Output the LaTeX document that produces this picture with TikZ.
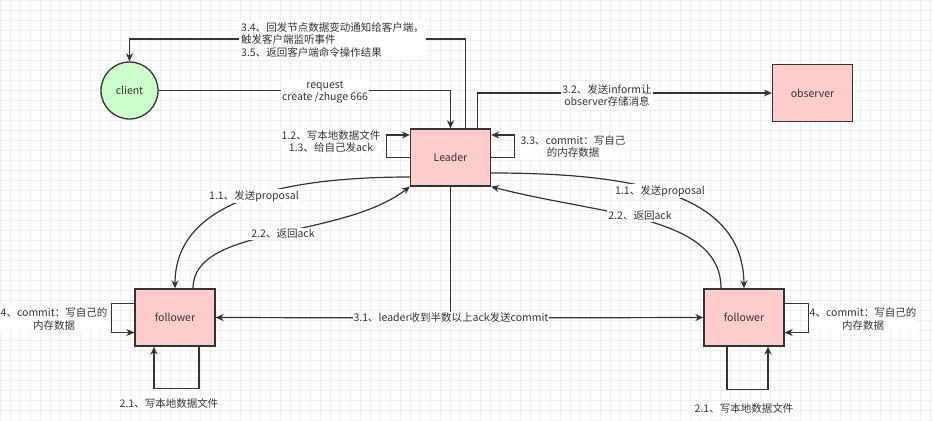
\documentclass[tikz,border=0pt]{standalone}
\usepackage{fontspec}
\setmainfont{Noto Sans CJK SC}
\usetikzlibrary{arrows.meta,calc}
\definecolor{edgec}{HTML}{333333}
\definecolor{pinkfill}{HTML}{FFCCCC}
\definecolor{greenfill}{HTML}{CCFFCC}
\definecolor{gridc}{HTML}{EEEEEE}
\begin{document}
\begin{tikzpicture}[x=1pt,y=-1pt,
  font=\fontsize{10.5}{12.5}\selectfont,
  box/.style={draw=edgec,line width=1.3pt,fill=pinkfill,minimum width=80pt,minimum height=57pt,inner sep=0pt,text=edgec},
  roundnode/.style={circle,draw=edgec,line width=1.3pt,fill=greenfill,minimum size=57pt,inner sep=0pt,text=edgec},
  conn/.style={draw=edgec,line width=1.2pt,-{Stealth[length=8pt,width=7pt]}},
  plain/.style={draw=edgec,line width=1.2pt},
  lbl/.style={fill=white,inner sep=1pt,text=edgec,align=center}
]
\useasboundingbox (0,0) rectangle (933,420);
\fill[white] (0,0) rectangle (933,420);
\foreach \i in {0,10,...,930} \draw[gridc,line width=0.5pt] (\i,0) -- (\i,420);
\foreach \j in {0,10,...,420} \draw[gridc,line width=0.5pt] (0,\j) -- (933,\j);

% nodes
\node[box] (leader) at (450.5,157.5) {Leader};
\node[roundnode] (client) at (129.5,90.5) {client};
\node[box] (observer) at (812.5,93) {observer};
\node[box] (lf) at (175,317.5) {follower};
\node[box] (rf) at (744,317.5) {follower};
\coordinate (top34) at (300,39);
\coordinate (j) at (450.5,318);

% client -> leader
\draw[conn] (client.east) -| (leader.north);
% leader -> client
\draw[conn] ([xshift=15pt]leader.north) |- (top34) -| (client.north);
% leader -> observer
\draw[conn] ([xshift=27pt]leader.north) |- (observer.west);
% leader self loops
\draw[conn] (leader.west) -- ++(-23,0) |- ([yshift=22.5pt]leader.west);
\draw[conn] (leader.east) -- ++(23,0) |- ([yshift=22.5pt]leader.east);
% proposals
\draw[conn] ([yshift=-19.5pt]leader.west) .. controls (260,177) and (175,210) .. (lf.north);
\draw[conn] ([yshift=-15.5pt]leader.east) .. controls (640,173) and (743,195) .. (rf.north);
% acks
\draw[conn] ([xshift=18pt]lf.north) .. controls (193,225) and (340,240) .. (leader.south west);
\draw[conn] ([xshift=-23pt]rf.north) .. controls (721,215) and (600,215) .. (leader.south east);
% commit
\draw[plain] (leader.south) -- (j);
\draw[conn] (j) -- (lf.east);
\draw[conn] (j) -- (rf.west);
% follower loops
\draw[conn] ([yshift=14pt]lf.west) -- ++(-23,0) |- ([yshift=-15pt]lf.west);
\draw[conn] ([xshift=24pt]lf.south) -- ++(0,42) -| ([xshift=-21pt]lf.south);
\draw[conn] ([yshift=14pt]rf.east) -- ++(24,0) |- ([yshift=-15pt]rf.east);
\draw[conn] ([xshift=-17pt]rf.south) -- ++(0,43) -| ([xshift=24pt]rf.south);

% labels
\node[lbl] (l1) at (325,92) {request\\create /zhuge 666};
\node[lbl,align=left,anchor=west,inner sep=2pt] (l2) at (239,39.5) {3.4、回发节点数据变动通知给客户端，\\触发客户端监听事件\\3.5、返回客户端命令操作结果};
\node[lbl] (l3) at (607,95.5) {3.2、发送inform让\\observer存储消息};
\node[lbl] (l4) at (331,141.5) {1.2、写本地数据文件\\1.3、给自己发ack};
\node[lbl] (l5) at (573,146.5) {3.3、commit：写自己\\的内存数据};
\node[lbl] (l6) at (254,196) {1.1、发送proposal};
\node[lbl] (l7) at (283,234) {2.2、返回ack};
\node[lbl] (l8) at (660,191) {1.1、发送proposal};
\node[lbl] (l9) at (640,216) {2.2、返回ack};
\node[lbl] (l10) at (451,318) {3.1、leader收到半数以上ack发送commit};
\node[lbl] (l11) at (54,319) {4、commit：写自己的\\内存数据};
\node[lbl] (l12) at (863,319) {4、commit：写自己的\\内存数据};
\node[lbl] (l13) at (169,403) {2.1、写本地数据文件};
\node[lbl] (l14) at (744,408) {2.1、写本地数据文件};
\end{tikzpicture}
\end{document}
